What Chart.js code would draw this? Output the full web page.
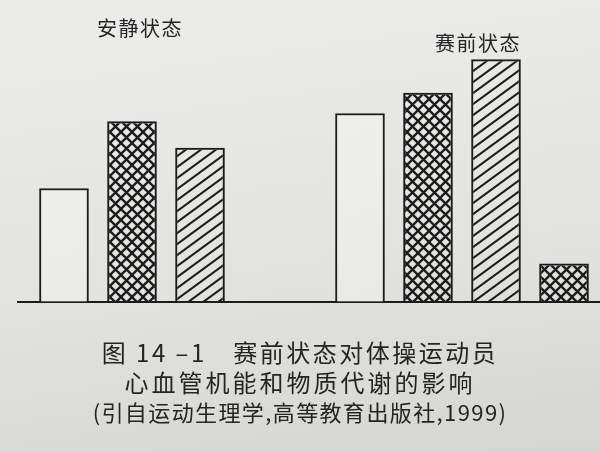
<!DOCTYPE html>
<html>
<head>
<meta charset="utf-8">
<style>
  html, body { margin: 0; padding: 0; }
  body {
    width: 600px; height: 452px; overflow: hidden; position: relative;
    background: linear-gradient(172deg, #ececea 0%, #e3e3e0 55%, #d5d5d1 100%);
    font-family: "Noto Sans CJK SC", sans-serif; color: #242424;
  }
  #wrap { position: absolute; left: 0; top: 0; width: 610px; height: 452px; }
  .cap { position: absolute; left: 0; width: 600px; text-align: center; line-height: 28px; white-space: nowrap; }
  #cap1 { top: 338px; font-size: 24px; letter-spacing: 2.5px; }
  #cap2 { top: 368px; font-size: 24px; letter-spacing: 3px; }
  #cap3 { top: 397px; font-size: 22px; letter-spacing: 1.4px; }
</style>
</head>
<body>
<div id="wrap"><canvas id="fig-chart"></canvas></div>
<div class="cap" id="cap1">图 14 –1&emsp;赛前状态对体操运动员</div>
<div class="cap" id="cap2">心血管机能和物质代谢的影响</div>
<div class="cap" id="cap3">(引自运动生理学,高等教育出版社,1999)</div>

<script src="https://cdn.jsdelivr.net/npm/chart.js"></script>

<script>
    // groups and bar heights (relative units)
    const groups = ['安静状态', '赛前状态'];
    const plainValues = [112, 186];
    const crossValues = [178, 206];
    const diagValues = [152, 239];
    const smallCrossValues = [null, 38];

    // hatch fills
    function crossPattern(size, lw) {
        const c = document.createElement('canvas');
        c.width = size; c.height = size;
        const g = c.getContext('2d');
        g.strokeStyle = '#1c1c1c';
        g.lineWidth = lw;
        for (let k = -1; k <= 1; k++) {
            g.beginPath();
            g.moveTo(-size, -size + k * size); g.lineTo(2 * size, 2 * size + k * size);
            g.stroke();
            g.beginPath();
            g.moveTo(-size, 2 * size + k * size); g.lineTo(2 * size, -size + k * size);
            g.stroke();
        }
        return g.createPattern(c, 'repeat');
    }

    function diagPattern(w, h, lw) {
        const c = document.createElement('canvas');
        c.width = w; c.height = h;
        const g = c.getContext('2d');
        g.strokeStyle = '#1c1c1c';
        g.lineWidth = lw;
        for (let k = -1; k <= 1; k++) {
            g.beginPath();
            g.moveTo(-w, 2 * h + k * h); g.lineTo(2 * w, -h + k * h);
            g.stroke();
        }
        return g.createPattern(c, 'repeat');
    }

    const cross = crossPattern(11, 2.3);
    const diag = diagPattern(15, 11, 2.1);

    const groupLabels = {
        id: 'groupLabels',
        afterDraw(chart, args, opts) {
            const { ctx, scales: { x } } = chart;
            ctx.save();
            ctx.font = opts.font;
            ctx.fillStyle = opts.color;
            ctx.textAlign = 'center';
            ctx.textBaseline = 'middle';
            if ('letterSpacing' in ctx) ctx.letterSpacing = '1.5px';
            chart.data.labels.forEach((label, i) => {
                ctx.fillText(label, x.getPixelForValue(i) + opts.dx[i], opts.y[i]);
            });
            ctx.restore();
        }
    };

    const barStyle = {
        borderColor: '#1c1c1c',
        borderWidth: 2,
        barPercentage: 0.73,
        categoryPercentage: 0.919
    };

    new Chart(document.getElementById('fig-chart'), {
        type: 'bar',
        data: {
            labels: groups,
            datasets: [
                { ...barStyle, data: plainValues, backgroundColor: 'rgba(255,255,255,0.3)' },
                { ...barStyle, data: crossValues, backgroundColor: cross },
                { ...barStyle, data: diagValues, backgroundColor: diag },
                { ...barStyle, data: smallCrossValues, backgroundColor: cross }
            ]
        },
        options: {
            responsive: true,
            maintainAspectRatio: false,
            animation: false,
            layout: { padding: { left: 18, right: 0, top: 38, bottom: 142 } },
            plugins: {
                legend: { display: false },
                tooltip: { enabled: false },
                groupLabels: {
                    font: '20px "Noto Sans CJK SC"',
                    color: '#242424',
                    dx: [-26, 16],
                    y: [28, 43]
                }
            },
            scales: {
                x: {
                    grid: { display: false },
                    ticks: { display: false },
                    border: { display: true, color: '#1c1c1c', width: 2 }
                },
                y: { display: false, min: 0, max: 260 }
            }
        },
        plugins: [groupLabels]
    });
</script>
</body>
</html>
